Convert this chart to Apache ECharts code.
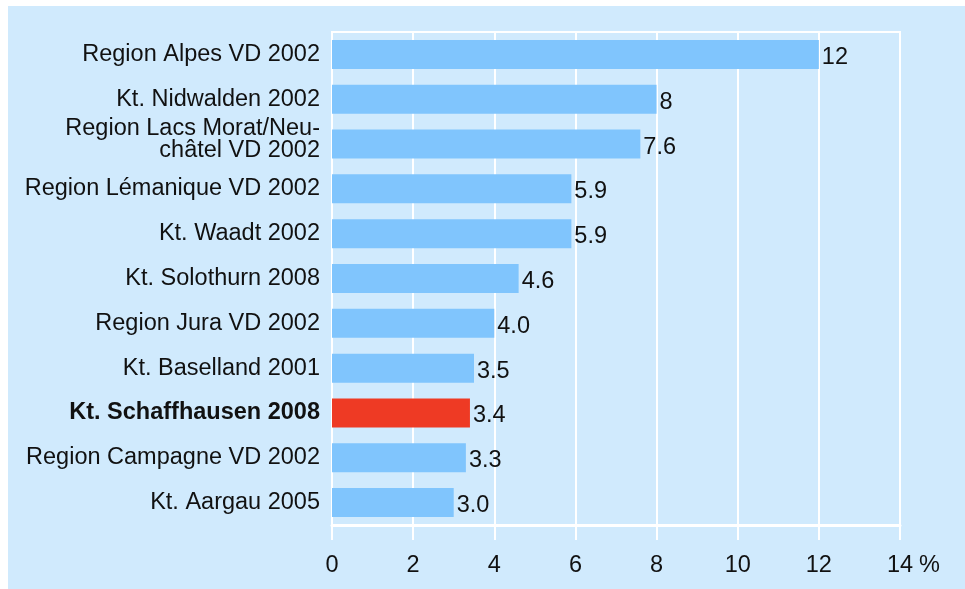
<!DOCTYPE html>
<html>
<head>
<meta charset="utf-8">
<script src="https://cdn.jsdelivr.net/npm/echarts@6/dist/echarts.min.js"></script>
<style>
  html, body { margin: 0; padding: 0; background: #fff; }
  #chart { position: absolute; left: 8px; top: 6px; width: 957px; height: 583px; }
</style>
</head>
<body>
<div id="chart"></div>
<script>
  // categories top to bottom
  const regions = [
    'Region Alpes VD 2002',
    'Kt. Nidwalden 2002',
    'Region Lacs Morat/Neu-\nchâtel VD 2002',
    'Region Lémanique VD 2002',
    'Kt. Waadt 2002',
    'Kt. Solothurn 2008',
    'Region Jura VD 2002',
    'Kt. Baselland 2001',
    'Kt. Schaffhausen 2008',
    'Region Campagne VD 2002',
    'Kt. Aargau 2005'
  ]
  const shares = [12, 8, 7.6, 5.9, 5.9, 4.6, 4.0, 3.5, 3.4, 3.3, 3.0]
  const shareLabels = ['12', '8', '7.6', '5.9', '5.9', '4.6', '4.0', '3.5', '3.4', '3.3', '3.0']
  const highlight = 'Kt. Schaffhausen 2008'
  const xTicks = [0, 2, 4, 6, 8, 10, 12, 14]

  const font = '"Liberation Sans", Arial, Helvetica, sans-serif'
  const fs = 23.5
  const chart = echarts.init(document.getElementById('chart'))

  // two-line label sits a bit higher than the bar centre: add a short empty line below
  const fmtRegion = v => {
    if (v === highlight) return '{b|' + v + '}'
    if (v.indexOf('\n') >= 0) {
      return v.split('\n').map(s => '{m|' + s + '}').join('\n') + '\n{s|\u00a0}'
    }
    return v
  }

  chart.setOption({
    backgroundColor: '#d0eafd',
    animation: false,
    grid: {
      left: 324, right: 65, top: 26, bottom: 64,
      show: true, borderColor: '#fff', borderWidth: 2, backgroundColor: 'transparent'
    },
    xAxis: {
      type: 'value',
      min: xTicks[0],
      max: xTicks[xTicks.length - 1],
      interval: 2,
      name: '%',
      nameLocation: 'end',
      nameGap: 18,
      nameTextStyle: {
        color: '#111', fontFamily: font, fontSize: fs,
        verticalAlign: 'top', padding: [29, 0, 0, 0]
      },
      axisLine: { show: true, lineStyle: { color: '#fff', width: 3 } },
      axisTick: { show: true, length: 15, lineStyle: { color: '#fff', width: 2 } },
      axisLabel: { color: '#111', fontFamily: font, fontSize: fs, margin: 29 },
      splitLine: { show: true, lineStyle: { color: '#fff', width: 2 } }
    },
    yAxis: {
      type: 'category',
      inverse: true,
      data: regions,
      axisLine: { show: true, lineStyle: { color: '#fff', width: 2 } },
      axisTick: { show: false },
      axisLabel: {
        color: '#111', fontFamily: font, fontSize: fs, margin: 12,
        formatter: fmtRegion,
        rich: {
          b: { fontWeight: 'bold', fontFamily: font, fontSize: fs, color: '#111' },
          m: { fontFamily: font, fontSize: fs, color: '#111', lineHeight: 22 },
          s: { fontFamily: font, fontSize: 8, lineHeight: 10 }
        }
      }
    },
    series: [{
      type: 'bar',
      barWidth: 29,
      data: shares.map((v, i) => ({
        value: v,
        itemStyle: { color: regions[i] === highlight ? '#ee3a24' : '#80c5fd' }
      })),
      label: {
        show: true,
        position: 'right',
        distance: 3,
        color: '#111',
        fontFamily: font,
        fontSize: fs,
        offset: [0, 3],
        formatter: p => shareLabels[p.dataIndex]
      }
    }]
  })
</script>
</body>
</html>
